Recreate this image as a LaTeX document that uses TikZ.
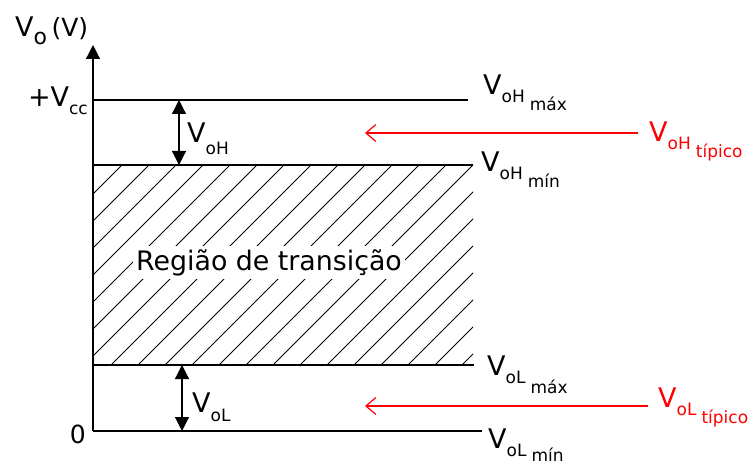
\documentclass[tikz,border=0pt]{standalone}
\usepackage{fontspec}
\setmainfont{DejaVu Sans}
\usetikzlibrary{arrows.meta}
% two level subscript label, e.g. V_{oH_{max}}
\newcommand{\Vsubsub}[3][8pt]{V\raisebox{-8pt}{\fontsize{17}{17}\selectfont #2\hspace{5pt}\raisebox{-#1}{#3}}}
\newcommand{\Vsub}[2][10pt]{V\raisebox{-#1}{\fontsize{17}{17}\selectfont #2}}
\tikzset{
  lbl/.style={inner sep=0pt,anchor=base west,font=\fontsize{27}{27}\selectfont},
  level/.style={line width=1.2pt},
  dim/.style={line width=1.2pt,>={Triangle[length=14pt,width=14pt]},<->},
  typ/.style={line width=1.2pt,red,>={Straight Barb[length=10pt,width=17pt]},->}
}
\begin{document}
\begin{tikzpicture}[x=1pt,y=-1pt]
      \useasboundingbox (0,0) rectangle (749,465);

      % hatched region
      \begin{scope}
        \clip (93,165) rectangle (473,365);
        \foreach \k in {0,...,22}
          \draw [line width=0.8pt] (-105+27*\k,365) -- ++(200,-200);
      \end{scope}
      \node [lbl,font=\fontsize{26.8}{26.8}\selectfont,fill=white,inner sep=3pt]
        (reg) at (133,270) {Região de transição};

      % axis and levels
      \coordinate (orig) at (93,431);
      \coordinate (top) at (93,45);
      \coordinate (vcc) at (93,100);   \coordinate (vcce) at (468,100);
      \coordinate (hmin) at (93,165);  \coordinate (hmine) at (473,165);
      \coordinate (lmax) at (93,365);  \coordinate (lmaxe) at (474,365);
      \coordinate (lmine) at (482,431);

      \draw [level,>={Triangle[length=14pt,width=14pt]},->] (orig) -- (top);
      \draw [level] (vcc) -- (vcce);
      \draw [level] (hmin) -- (hmine);
      \draw [level] (lmax) -- (lmaxe);
      \draw [level] (orig) -- (lmine);

      % margins
      \coordinate (oh1) at (179,100); \coordinate (oh2) at (179,165);
      \coordinate (ol1) at (182,365); \coordinate (ol2) at (182,431);
      \draw [dim] (oh1) -- (oh2);
      \draw [dim] (ol1) -- (ol2);
      \node [lbl] (noh) at (187,143) {\Vsub[12pt]{oH}};
      \node [lbl] (nol) at (192,412) {\Vsub[9pt]{oL}};

      % typical values
      \coordinate (th) at (638,133); \coordinate (thx) at (365,133);
      \coordinate (tl) at (648,406); \coordinate (tlx) at (365,406);
      \draw [typ] (th) -- (thx);
      \draw [typ] (tl) -- (tlx);

      % labels
      \node [lbl] (ny) at (15,37)
        {V\raisebox{-8pt}{\fontsize{22}{22}\selectfont o}\,{\fontsize{25}{25}\selectfont(V)}};
      \node [lbl,anchor=base east] (nvcc) at (88,107) {+\Vsub[8pt]{cc}};
      \node [lbl,anchor=base east,font=\fontsize{25}{25}\selectfont] (nz) at (86,443) {0};
      \node [lbl] (nhmax) at (483,95)  {\Vsubsub{oH}{máx}};
      \node [lbl] (nhmin) at (481,172) {\Vsubsub{oH}{mín}};
      \node [lbl,text=red] (nhtyp) at (649,142) {\Vsubsub{oH}{típico}};
      \node [lbl] (nlmax) at (487,375) {\Vsubsub[10pt]{oL}{máx}};
      \node [lbl,text=red] (nltyp) at (658,407) {\Vsubsub{oL}{típico}};
      \node [lbl] (nlmin) at (488,448) {\Vsubsub[5pt]{oL}{mín}};
\end{tikzpicture}
\end{document}
